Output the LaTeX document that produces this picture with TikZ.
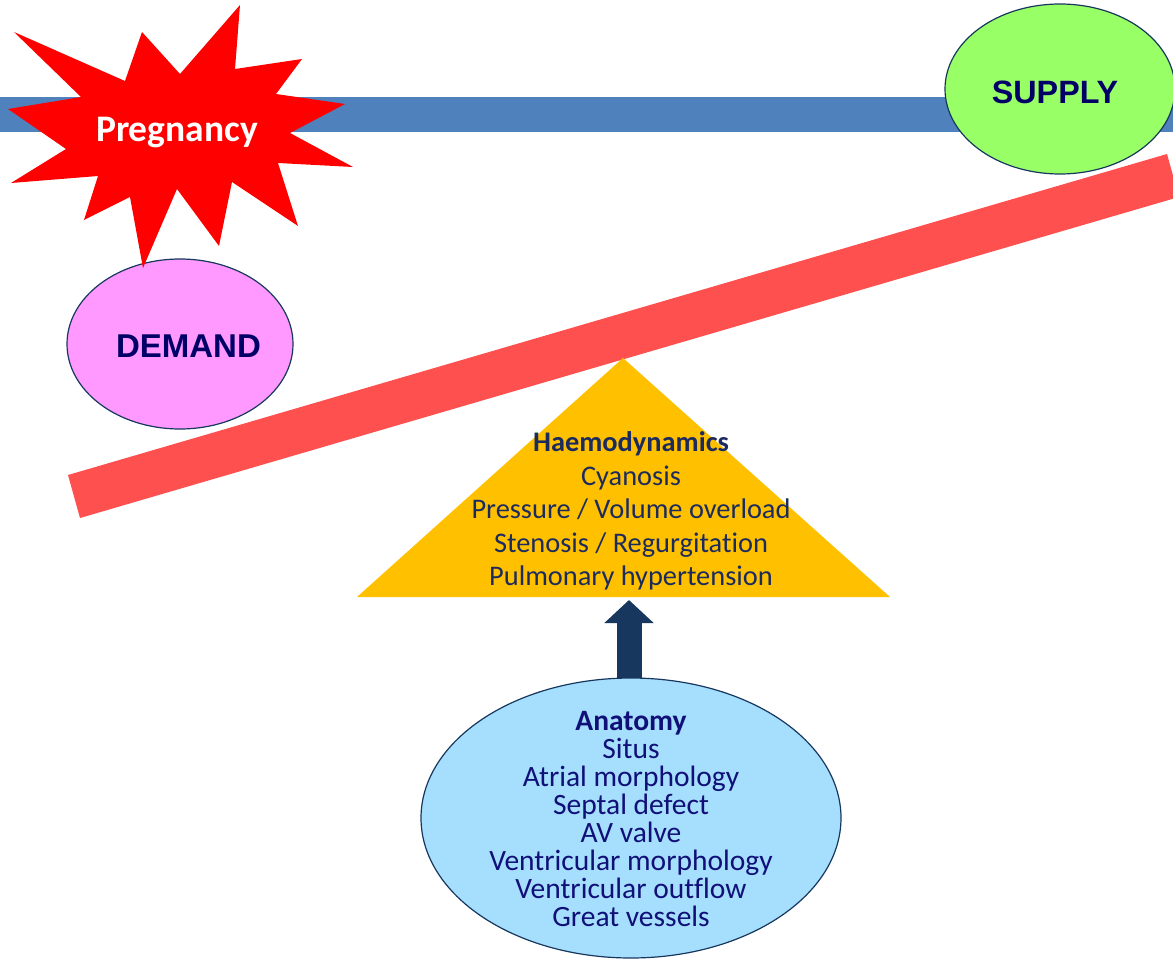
\documentclass[tikz,border=0pt]{standalone}
\usepackage{fontspec}
\setmainfont{Carlito}[Ligatures={NoCommon}]
\newfontfamily\arialf{Liberation Sans}
\usetikzlibrary{shapes.geometric,arrows.meta,calc}
\definecolor{barblue}{HTML}{4F81BD}
\definecolor{supplyg}{HTML}{99FF66}
\definecolor{demandp}{HTML}{FF99FF}
\definecolor{plankred}{HTML}{FF5050}
\definecolor{starred}{HTML}{FF0000}
\definecolor{triy}{HTML}{FFC000}
\definecolor{anatb}{HTML}{A6DEFD}
\definecolor{edge}{HTML}{17375E}
\definecolor{navytxt}{HTML}{000066}
\definecolor{tritxt}{HTML}{1C2B5E}
\definecolor{anattxt}{HTML}{101078}
\tikzset{
  oval/.style={ellipse, draw=edge, line width=1.2pt, inner sep=0pt},
  capt/.style={font=\arialf\bfseries\fontsize{32.3}{38}\selectfont, text=navytxt},
  listtxt/.style={align=center, inner sep=0pt},
}
\begin{document}
\begin{tikzpicture}[x=1pt,y=-1pt]
\useasboundingbox (0,0) rectangle (1173,960);
% blue bar
\fill[barblue] (0,97) rectangle (1173,132);
% supply
\node[oval, fill=supplyg, minimum width=230pt, minimum height=170pt] (supply) at (1060,89) {};
\node[capt] (supplyt) at (1055,92) {SUPPLY};
% plank
\fill[plankred] (68,475) -- (1167,154) -- (1179,197) -- (80,518) -- cycle;
% demand
\node[oval, fill=demandp, minimum width=226pt, minimum height=170pt] (demand) at (180,344) {};
\node[capt, font=\arialf\bfseries\fontsize{33}{38}\selectfont] (demandt) at (188.5,346) {DEMAND};
% star
\fill[starred] (14,32) -- (125,81) -- (142,32) -- (180,74) -- (240,5) -- (235,69) -- (302,59) -- (276,94)
  -- (345,104) -- (290,133) -- (353,167) -- (278,163) -- (298,226) -- (232,182) -- (219,246) -- (177,189)
  -- (143,268) -- (130,197) -- (84,220) -- (98,176) -- (11,183) -- (66,149) -- (8,109) -- (81,97) -- cycle;
\node[text=white, font=\bfseries\fontsize{37.5}{44}\selectfont] (preg) at (177,133) {Pregnancy};
% triangle
\coordinate (apex) at (623,358);
\coordinate (bl) at (357,597);
\coordinate (br) at (890,597);
\fill[triy] (apex) -- (br) -- (bl) -- cycle;
\node[listtxt, text=tritxt, font=\fontsize{28.4}{33.5}\selectfont] (haemo) at (631,511)
  {\textbf{Haemodynamics}\\Cyanosis\\Pressure / Volume overload\\Stenosis / Regurgitation\\Pulmonary hypertension};
% anatomy
\coordinate (tribase) at (629,597);
\node[oval, draw=none, minimum width=420pt, minimum height=280pt] (anatshape) at (631,818) {};
\draw[edge, line width=25pt, -{Triangle[width=48pt,length=23pt]}] ($(anatshape.north)+(-2,2)$) -- ($(tribase)+(0,3)$);
\node[oval, fill=anatb, minimum width=420pt, minimum height=280pt] (anat) at (631,818) {};
\node[listtxt, text=anattxt, font=\fontsize{29.5}{28}\selectfont] (anatt) at (631,819)
  {\textbf{Anatomy}\\Situs\\Atrial morphology\\Septal defect\\AV valve\\Ventricular morphology\\Ventricular outflow\\Great vessels};
\end{tikzpicture}
\end{document}
